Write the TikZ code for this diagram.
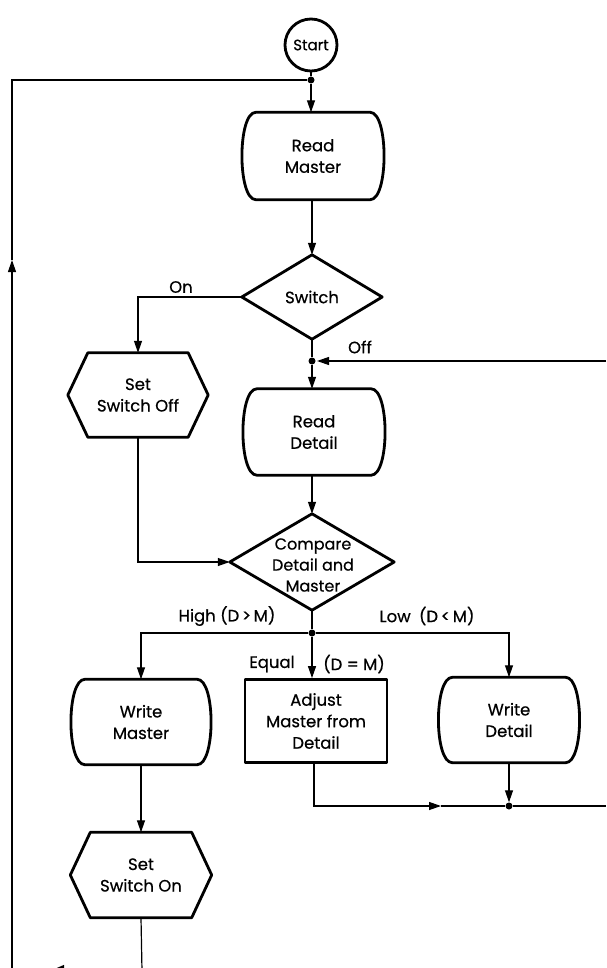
\documentclass[tikz,border=0pt]{standalone}
\usepackage{fontspec}
\setmainfont{Poppins}[FakeBold=0.5]
\usetikzlibrary{arrows.meta,calc}
\newcommand\drawbarrel[1]{%
  \draw[shp] ($(#1.north west)+(14,0)$) -- ($(#1.north east)+(-14,0)$)
    .. controls ($(#1.north east)+(4.5,0)$) and ($(#1.south east)+(4.5,0)$) .. ($(#1.south east)+(-14,0)$)
    -- ($(#1.south west)+(14,0)$)
    .. controls ($(#1.south west)+(-4.5,0)$) and ($(#1.north west)+(-4.5,0)$) .. cycle;}
\newcommand\drawhex[1]{%
  \draw[shp] (#1.west) -- ($(#1.north west)+(20,0)$) -- ($(#1.north east)+(-20,0)$)
    -- (#1.east) -- ($(#1.south east)+(-20,0)$) -- ($(#1.south west)+(20,0)$) -- cycle;}
\newcommand\drawdiam[1]{%
  \draw[shp] (#1.north) -- (#1.east) -- (#1.south) -- (#1.west) -- cycle;}
\begin{document}
\begin{tikzpicture}[x=1pt,y=-1pt,
  conn/.style={line width=1.2pt},
  arr/.style={conn,-{Triangle[length=12pt,width=8pt]}},
  shp/.style={line width=2.8pt, line join=round},
  txt/.style={font=\fontsize{16.5}{21.5}\selectfont, align=center, inner sep=0pt},
  dot/.style={circle, fill, inner sep=0pt, minimum size=7pt},
  lbl/.style={font=\fontsize{16.5}{19}\selectfont, inner sep=0pt}]
\useasboundingbox (0,0) rectangle (606,968);
% nodes
\node[circle, draw, shp, inner sep=0pt, minimum size=52pt, font=\fontsize{15}{18}\selectfont] (start) at (311,45) {Start};
\node[dot] (d1) at (311,80) {};
\node[txt, minimum width=142pt, minimum height=87pt] (rm) at (313,156) {Read\\Master};
\node[txt, minimum width=140pt, minimum height=84pt] (sw) at (312,297) {Switch};
\node[dot] (d2) at (312,361) {};
\node[txt, minimum width=140pt, minimum height=84pt] (sso) at (138,395) {Set\\Switch Off};
\node[txt, minimum width=142pt, minimum height=86pt] (rd) at (314,432) {Read\\Detail};
\node[minimum width=164pt, minimum height=96pt, inner sep=0pt] (cmp) at (312,562) {};
\node[txt, font=\fontsize{16}{21}\selectfont] (cmpt) at (313,565) {Compare\\Detail and\\Master};
\node[dot] (d3) at (312,633) {};
\node[txt, minimum width=140pt, minimum height=85pt] (wm) at (141,722) {Write\\Master};
\node[txt, minimum width=142pt, minimum height=83pt, draw, shp] (adj) at (316,721) {Adjust\\Master from\\Detail};
\node[txt, minimum width=141pt, minimum height=85pt] (wd) at (509,720) {Write\\Detail};
\node[dot] (d4) at (509,806) {};
\node[txt, minimum width=141pt, minimum height=85pt] (sson) at (141,875) {Set\\Switch On};
% outlines
\drawbarrel{rm}
\drawdiam{sw}
\drawhex{sso}
\drawbarrel{rd}
\drawdiam{cmp}
\drawbarrel{wm}
\drawbarrel{wd}
\drawhex{sson}
% coordinates
\coordinate (onc) at (138,297);
\coordinate (offr) at (606,361);
\coordinate (offtip) at (317,361);
\coordinate (ssoc) at (138,562);
\coordinate (hic) at (141,633);
\coordinate (loc) at (509,633);
\coordinate (adjc) at (314,806);
\coordinate (midtip) at (441,806);
\coordinate (rgt) at (606,806);
\coordinate (bc) at (142,971);
\coordinate (bltip) at (50,971);
\coordinate (bl) at (12,971);
\coordinate (uptip) at (12,260);
\coordinate (tl) at (12,80);
% connectors
\draw[conn] (start) -- (d1);
\draw[arr] (d1) -- (rm.north -| d1);
\draw[arr] (rm.south -| sw) -- (sw.north);
\draw[arr] (sw.west) -- (onc) -- (sso.north);
\draw[conn] (sw.south) -- (d2);
\draw[arr] (d2) -- (d2 |- rd.north);
\draw[arr] (offr) -- (offtip);
\draw[arr] (rd.south -| cmp) -- (cmp.north);
\draw[arr] (sso.south) -- (ssoc) -- (cmp.west);
\draw[conn] (cmp.south) -- (d3);
\draw[arr] (d3) -- (d3 |- adj.north);
\draw[arr] (d3) -- (hic) -- (wm.north);
\draw[arr] (d3) -- (loc) -- (wd.north);
\draw[arr] (wm.south) -- (sson.north);
\draw[arr] (adj.south -| adjc) -- (adjc) -- (midtip);
\draw[conn] (midtip) -- (d4);
\draw[arr] (wd.south) -- (d4);
\draw[conn] (d4) -- (rgt);
\draw[conn,-{Triangle[length=14pt,width=12pt]}] (sson.south) -- (bc) -- (bltip);
\draw[conn] (bltip) -- (bl);
\draw[arr] (bl) -- (uptip);
\draw[conn] (uptip) -- (tl) -- (d1);
% labels
\node[lbl] (lon) at (181,287) {On};
\node[lbl] (loff) at (360,347) {Off};
\node[lbl] (lhigh) at (227,616) {High (D\,>\,M)};
\node[lbl] (llow) at (427,616) {Low\enspace(D\,<\,M)};
\node[lbl] (leq) at (272,664) {Equal};
\node[lbl] (ldm) at (354,664) {(D = M)};
\end{tikzpicture}
\end{document}
